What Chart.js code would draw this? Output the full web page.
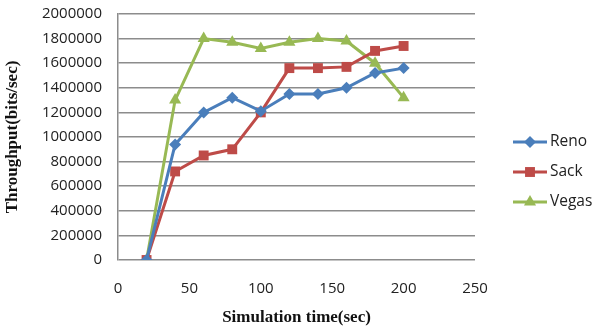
<!DOCTYPE html>
<html>
<head>
<meta charset="utf-8">
<script src="https://cdn.jsdelivr.net/npm/chart.js@4"></script>
<style>
    html, body { margin: 0; padding: 0; background: #fff; }
    #wrap { width: 593px; height: 328px; }
</style>
</head>
<body>
<div id="wrap"><canvas id="chart"></canvas></div>
<script>
// 資料
const simTimes = [20, 40, 60, 80, 100, 120, 140, 160, 180, 200];
const renoValues = [0, 940000, 1200000, 1320000, 1210000, 1350000, 1350000, 1400000, 1520000, 1560000];
const sackValues = [0, 720000, 850000, 900000, 1200000, 1560000, 1560000, 1570000, 1700000, 1740000];
const vegasValues = [0, 1300000, 1800000, 1770000, 1720000, 1770000, 1800000, 1780000, 1600000, 1320000];
const seriesNames = ['Reno', 'Sack', 'Vegas'];
const xTicks = [0, 50, 100, 150, 200, 250];
const yMax = 2000000;
const yStep = 200000;

function toPoints(values) {
    return simTimes.map((t, i) => ({ x: t, y: values[i] }));
}

// 右側圖例（線條加標記）
const sideLegend = {
    id: 'sideLegend',
    afterDraw(chart) {
        const ctx = chart.ctx;
        const ys = [142, 172, 202];
        chart.data.datasets.forEach((ds, i) => {
            const y = ys[i];
            ctx.save();
            ctx.strokeStyle = ds.borderColor;
            ctx.lineWidth = 3;
            ctx.beginPath();
            ctx.moveTo(513, y);
            ctx.lineTo(547, y);
            ctx.stroke();
            ctx.fillStyle = ds.backgroundColor;
            Chart.helpers.drawPoint(ctx, {
                pointStyle: ds.pointStyle,
                radius: ds.pointRadius,
                borderWidth: 0
            }, 530, y);
            ctx.fillStyle = '#222';
            ctx.font = '15.5px "Open Sans"';
            ctx.textBaseline = 'middle';
            ctx.textAlign = 'left';
            ctx.fillText(ds.label, 550, y);
            ctx.restore();
        });
    }
};

new Chart(document.getElementById('chart'), {
    type: 'line',
    data: {
        datasets: [
            {
                label: seriesNames[0],
                data: toPoints(renoValues),
                borderColor: '#4a7ebb',
                backgroundColor: '#4a7ebb',
                borderWidth: 3,
                pointStyle: 'rectRot',
                pointRadius: 6,
                pointBorderWidth: 0
            },
            {
                label: seriesNames[1],
                data: toPoints(sackValues),
                borderColor: '#be4b48',
                backgroundColor: '#be4b48',
                borderWidth: 3,
                pointStyle: 'rect',
                pointRadius: 7,
                pointBorderWidth: 0
            },
            {
                label: seriesNames[2],
                data: toPoints(vegasValues),
                borderColor: '#98b954',
                backgroundColor: '#98b954',
                borderWidth: 3,
                pointStyle: 'triangle',
                pointRadius: 7,
                pointBorderWidth: 0
            }
        ]
    },
    options: {
        responsive: true,
        maintainAspectRatio: false,
        animation: false,
        layout: { padding: { top: 0, right: 118, left: 0, bottom: 0 } },
        plugins: {
            legend: { display: false },
            tooltip: { enabled: false }
        },
        scales: {
            x: {
                type: 'linear',
                min: 0,
                max: 250,
                afterBuildTicks: s => { s.ticks = xTicks.map(v => ({ value: v })); },
                afterFit: s => { s.height = 68; },
                grid: { display: false, drawTicks: false },
                border: { display: false },
                ticks: {
                    padding: 20,
                    color: '#222',
                    font: { family: 'Open Sans', size: 15 }
                },
                title: {
                    display: true,
                    text: 'Simulation time(sec)',
                    color: '#111',
                    font: { family: 'Liberation Serif', size: 17, weight: 'bold' },
                    padding: { top: 8, bottom: 0 }
                }
            },
            y: {
                min: 0,
                max: yMax,
                afterFit: s => { s.width = 118; s.paddingTop = 14; s.paddingBottom = 10; },
                grid: { color: '#8c8c8c', lineWidth: 1.5, drawTicks: false },
                border: { display: true, color: '#8c8c8c', width: 1.5 },
                ticks: {
                    stepSize: yStep,
                    padding: 16,
                    color: '#222',
                    font: { family: 'Open Sans', size: 15 },
                    callback: v => String(v)
                },
                title: {
                    display: true,
                    text: 'Throughput(bits/sec)',
                    color: '#111',
                    font: { family: 'Liberation Serif', size: 17, weight: 'bold' },
                    padding: { top: 2, bottom: 0 }
                }
            }
        }
    },
    plugins: [sideLegend]
});
</script>
</body>
</html>
